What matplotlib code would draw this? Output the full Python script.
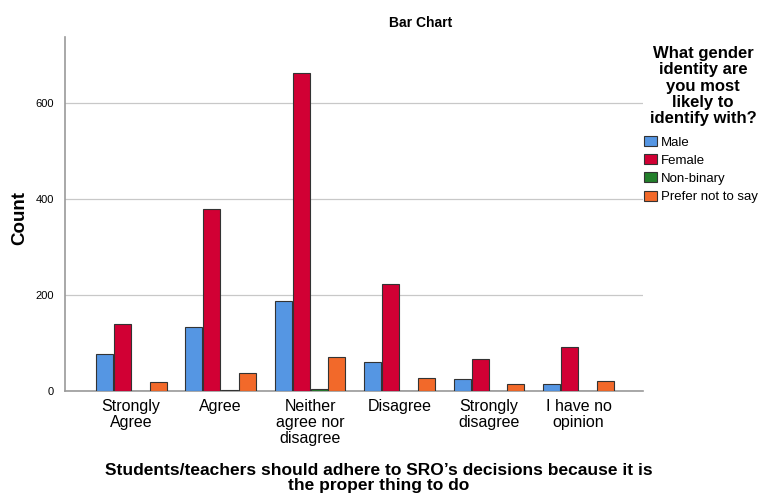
import numpy as np
import matplotlib.pyplot as plt
from matplotlib.patches import Patch

plt.rcParams['font.family'] = ['Liberation Sans', 'DejaVu Sans']

categories = ['Strongly\nAgree', 'Agree', 'Neither\nagree nor\ndisagree', 'Disagree',
              'Strongly\ndisagree', 'I have no\nopinion']
male = [77, 133, 188, 60, 25, 15]
female = [140, 379, 662, 223, 66, 92]
non_binary = [1, 2, 4, 1, 1, 1]
prefer_not = [19, 37, 71, 28, 15, 20]

series = ['Male', 'Female', 'Non-binary', 'Prefer not to say']
colors = ['#5596E3', '#D10034', '#237F2B', '#F2692A']
values = [male, female, non_binary, prefer_not]

fig = plt.figure(figsize=(7.6, 4.97), dpi=100)
ax = fig.add_axes([0.0855, 0.2133, 0.7605, 0.7123])

x = np.arange(len(categories))
w = 0.2
for i, (vals, c) in enumerate(zip(values, colors)):
    ax.bar(x + (i - 1.5) * w, vals, width=w * 0.95, color=c,
           edgecolor='#333333', linewidth=0.8, zorder=3)

ax.set_xlim(-0.74, 5.72)
ax.set_ylim(0, 737)
ax.set_yticks([0, 200, 400, 600])
ax.set_xticks(x)
ax.set_xticklabels(categories, fontsize=11.5, linespacing=1.05, va='top')
ax.tick_params(axis='y', labelsize=8, length=0, pad=8)
ax.tick_params(axis='x', length=0, pad=6)
ax.grid(axis='y', color='#C8C8C8', linewidth=0.9, zorder=0)
for s in ['top', 'right']:
    ax.spines[s].set_visible(False)
for s in ['left', 'bottom']:
    ax.spines[s].set_color('#9A9A9A')
    ax.spines[s].set_linewidth(1.2)

ax.set_ylabel('Count', fontsize=13.5, fontweight='bold')
ax.yaxis.set_label_coords(-37 / 578, 0.49)
fig.text(379 / 760, 1 - 478 / 497,
         'Students/teachers should adhere to SRO\u2019s decisions because it is\nthe proper thing to do',
         ha='center', va='center', fontsize=12.5, fontweight='bold', linespacing=1.0)
fig.text(421 / 760, 1 - 23 / 497, 'Bar Chart', ha='center', va='center',
         fontsize=10, fontweight='bold')

fig.text(703 / 760, 1 - 86 / 497, 'What gender\nidentity are\nyou most\nlikely to\nidentify with?',
         ha='center', va='center', fontsize=12, fontweight='bold', linespacing=1.12)
handles = [Patch(facecolor=c, edgecolor='#333333', linewidth=0.8) for c in colors]
fig.legend(handles, series, loc='upper left', bbox_to_anchor=(644 / 760, 1 - 136 / 497),
           frameon=False, fontsize=9.5, handlelength=1.0, handleheight=0.8,
           handletextpad=0.3, labelspacing=0.42, borderpad=0, borderaxespad=0)

fig.savefig('out.png', dpi=100)
